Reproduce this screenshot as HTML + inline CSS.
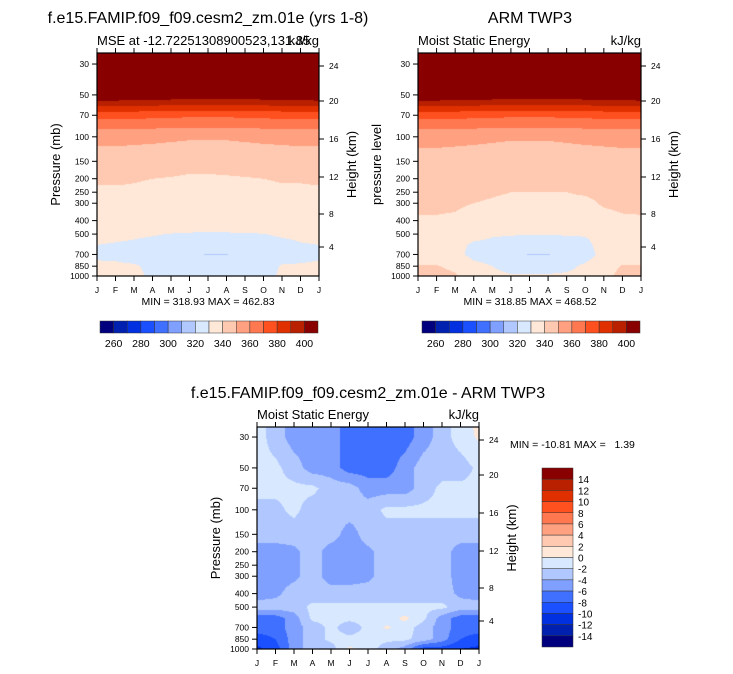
<!DOCTYPE html>
<html><head><meta charset="utf-8"><style>
body{margin:0;background:#fff;width:733px;height:674px;overflow:hidden;position:relative;font-family:"Liberation Sans",sans-serif}
canvas{position:absolute}
svg{position:absolute;left:0;top:0}
text{white-space:pre}
</style></head><body>
<canvas id="c1" width="222" height="223" style="left:97px;top:53px"></canvas>
<canvas id="c2" width="223" height="223" style="left:418px;top:53px"></canvas>
<canvas id="c3" width="222" height="222" style="left:257px;top:427px"></canvas>
<svg id="s" width="733" height="674"></svg>
<script>
const colors=["#00007f","#0020b0","#0030e0","#1a50ff","#4070ff","#80a0ff","#b0c8ff","#d8e8ff","#ffe8d8","#ffc8b0","#ffa080","#ff7850","#ff5020","#e03000","#b82000","#880000"];
const months=["J","F","M","A","M","J","J","A","S","O","N","D","J"];
const pLevels=[25,30,50,70,100,150,200,250,300,400,500,600,700,850,1000];
const pTicks=[30,50,70,100,150,200,250,300,400,500,700,850,1000];
const hTicks=[24,20,16,12,8,4];
const hTickOffsets=[13,48,86,124,161,194];
const mseLabels=[260,280,300,320,340,360,380,400];
const diffLabels=[14,12,10,8,6,4,2,0,-2,-4,-6,-8,-10,-12,-14];
// rows = months J..J, columns = pLevels
const modelMSE=[
[470,455,410,374,352.5,346,341,339,338,336,331.5,330,328.5,331.5,332],
[470,455,410,374,352.5,346,341,339,338,336,331.5,329.5,328,331.5,332],
[470,455,409.5,373.5,352.3,345.5,340.5,339,337.5,335.5,331,329,326,331,331.5],
[470,455,409,373,352,345,340,338.5,337,335,330.5,328,325,328,329],
[470,455,408,372.5,351.5,344.5,339.5,338,336.5,334.5,329.8,327.5,324,324,327],
[470,455,407,372,351,344,338.5,337.5,336,334,329.5,327,321,323,326],
[470,455,407,372,351,344,338.5,337.5,336,334,329.3,326.5,319.7,323,326],
[470,455,407,372,351,344,339,337.5,336,334,329.4,326.5,319.8,323,326],
[470,455,407.5,372.5,351.5,344.5,339.5,338,336.5,334.5,329.7,327,322,323,326],
[470,455,408,373,352,345,340,338.5,337,335,329.8,327.5,323,325,327],
[470,455,409,373.5,352.3,345.5,340.5,339,337.5,335.5,331,328,325,331,331.5],
[470,455,409.5,374,352.5,346,340.5,339,337.5,336,331.5,329.5,327,331,332],
[470,455,410,374,352.5,346,341,339,338,336,331.5,330,328.5,331.5,332]];
const obsMSE=[
[470,455,410,374,352.5,347,343,342,341,339.5,336,335,335,340.5,343],
[470,455,410,374,352.5,347,343,342,341,339.5,336,335,334.5,340.5,343],
[470,455,409.5,373.5,352.3,346.5,342.5,341.5,340.7,339.3,335.5,334,333,338,341],
[470,455,409,373,352,346,342,341,340,338,334,328,327,333,336],
[470,455,408,372.5,351.5,345.5,341.5,340.5,339.5,337.5,331,327.5,325,330,333],
[470,455,407,372,351,345,341,340,339,337,330.5,327,323,326,331],
[470,455,407,372,351,345,341,340,339,337,330.3,326.5,319.5,326,331],
[470,455,407,372,351,345,341,340,339,337,330.3,326.5,319.7,326,331],
[470,455,407.5,372.5,351.5,345.5,341,340,339,337,330.5,327,323,327,332],
[470,455,408,373,352,346,341.5,340.5,339,337.5,330.8,327.5,325,332,334],
[470,455,409,373.5,352.3,346.5,342,341,340.5,338.5,333,334,334,337,338],
[470,455,409.5,374,352.5,347,342.5,341.5,341,339.3,335.5,335,335,340.5,342],
[470,455,410,374,352.5,347,343,342,341,339.5,336,335,335,340.5,343]];
const diffMSE=[
[-1,-1,-1.5,-1.5,-2.5,-3,-5,-5,-5,-5,-3,-7,-7,-9,-10.5],
[-3,-3,-1.5,-1.5,-2.5,-3,-5,-5,-5,-4.5,-3,-7,-7,-8,-9],
[-5,-5,-3,-1.5,-1.5,-3,-4.5,-4.5,-4.5,-3,-3,-5,-5,-5,-5],
[-5,-5,-5,-1.5,-3,-3,-3,-3,-3,-3,-1.5,-1.5,-3,-3,-3],
[-5,-5,-5,-3,-3,-3,-5,-5,-5,-3,-1.5,-1.5,-1.5,-1.5,-3],
[-7,-7,-7,-3,-3,-5,-5,-5,-5,-3,-1.5,-1.5,-3,-1.5,0.5],
[-7,-7,-7,-5,-3,-3,-4.5,-4.5,-4.5,-3,-1.5,-1.5,-1.5,-1.5,-1],
[-7,-7,-7,-5,-1.5,-3,-3,-3,-3,-3,-1.5,-1,0.3,-1.5,-3],
[-7,-7,-5,-5,-1.5,-3,-3,-3,-3,-3,-1.5,0.5,-1,-1.5,-5],
[-5,-5,-3,-3,-1.5,-3,-3,-3,-3,-3,-1.5,-1.5,-3,-3,-9],
[-3,-3,-3,-1.5,-1.5,-3,-3,-3,-3,-3,-1.5,-5,-5,-5,-9],
[-1,-1,-3,-1.5,-1.5,-3,-5,-5,-5,-4.5,-3,-7,-7,-8,-10],
[0.5,0.3,-1.5,-1.5,-1.5,-3,-5,-5,-5,-5,-3,-7,-7,-9,-10.5]];

const PX=60.45; // px per ln-unit of pressure
function yOf(p,bottom){return bottom-Math.log(1000/p)*PX;}
function sample(data,m,p){
  const i0=Math.min(Math.floor(m),11),fx=m-i0;
  const lp=Math.log(p);let j=0;
  while(j<pLevels.length-2&&Math.log(pLevels[j+1])<lp)j++;
  const a=Math.log(pLevels[j]),b=Math.log(pLevels[j+1]);
  const fy=Math.max(0,Math.min(1,(lp-a)/(b-a)));
  const v00=data[i0][j],v01=data[i0][j+1],v10=data[i0+1][j],v11=data[i0+1][j+1];
  return (v00*(1-fx)+v10*fx)*(1-fy)+(v01*(1-fx)+v11*fx)*fy;
}
function drawField(id,data,idxFn){
  const c=document.getElementById(id),ctx=c.getContext('2d');
  const W=c.width,H=c.height;
  for(let y=0;y<H;y++){
    const p=1000*Math.exp(-(H-0.5-y)/PX);
    for(let x=0;x<W;x++){
      const m=(x+0.5)/W*12;
      ctx.fillStyle=colors[idxFn(sample(data,m,p))];
      ctx.fillRect(x,y,1,1);
    }
  }
}
const mseIdx=v=>Math.max(0,Math.min(15,Math.floor((v-250)/10)));
const diffIdx=v=>Math.max(0,Math.min(15,Math.floor((v+16)/2)));
drawField('c1',modelMSE,mseIdx);
drawField('c2',obsMSE,mseIdx);
drawField('c3',diffMSE,diffIdx);

const s=document.getElementById('s');const NS="http://www.w3.org/2000/svg";
function el(tag,attrs,txt){const e=document.createElementNS(NS,tag);for(const k in attrs)e.setAttribute(k,attrs[k]);if(txt!==undefined)e.textContent=txt;s.appendChild(e);return e;}
function text(x,y,t,size,anchor,name,rot){
  const e=el('text',{x:x,y:y,'font-size':size,'text-anchor':anchor||'start','font-family':'Liberation Sans, sans-serif',fill:'#000'},t);
  if(rot)e.setAttribute('transform','rotate(-90 '+x+' '+y+')');
  
  
  return e;
}
function axes(L,T,W,H,ylabel,prefix){
  const B=T+H,R=L+W;
  const fr=el('rect',{x:L,y:T,width:W,height:H,fill:'none',stroke:'#000','stroke-width':1.2});
  
  
  months.forEach((m,i)=>{
    const x=L+i*W/12;
    el('line',{x1:x,y1:B,x2:x,y2:B+5,stroke:'#000'});
    el('line',{x1:x,y1:T,x2:x,y2:T-5,stroke:'#000'});
    text(x,B+17,m,8.5,'middle',prefix+'-month-tick-label');
  });
  pTicks.forEach(p=>{
    const y=yOf(p,B);
    el('line',{x1:L,y1:y,x2:L-5,y2:y,stroke:'#000'});
    text(L-8,y+3,String(p),8.5,'end',prefix+'-pressure-tick-label');
  });
  hTicks.forEach((h,i)=>{
    const y=T+hTickOffsets[i];
    el('line',{x1:R,y1:y,x2:R+5,y2:y,stroke:'#000'});
    text(R+10,y+3,String(h),8.5,'start',prefix+'-height-tick-label');
  });
  text(L-37,T+H/2,ylabel,13,'middle',prefix+'-y-axis-title',true);
  text(R+37,T+H/2,'Height (km)',13,'middle',prefix+'-right-axis-title',true);
}
axes(97,53,222,223,'Pressure (mb)','model');
axes(418,53,223,223,'pressure level','obs');
axes(257,427,222,222,'Pressure (mb)','diff');

text(208,23,'f.e15.FAMIP.f09_f09.cesm2_zm.01e (yrs 1-8)',16,'middle','model-title');
text(97,45,'MSE at -12.72251308900523,131.85',13,'start','model-subtitle');
text(319,45,'kJ/kg',13,'end','model-units');
text(208,305,'MIN = 318.93 MAX = 462.83',10.5,'middle','model-min-max');
text(530,23,'ARM TWP3',16,'middle','obs-title');
text(418,45,'Moist Static Energy',13,'start','obs-subtitle');
text(641,45,'kJ/kg',13,'end','obs-units');
text(530,305,'MIN = 318.85 MAX = 468.52',10.5,'middle','obs-min-max');
text(368,398,'f.e15.FAMIP.f09_f09.cesm2_zm.01e - ARM TWP3',16,'middle','diff-title');
text(257,419,'Moist Static Energy',13,'start','diff-subtitle');
text(479,419,'kJ/kg',13,'end','diff-units');
text(510,448,'MIN = -10.81 MAX =   1.39',10.5,'start','diff-min-max');

// horizontal colorbars
[100,422].forEach((x0,k)=>{
  const w=218/16;
  colors.forEach((c,i)=>{
    const r=el('rect',{x:x0+i*w,y:321,width:w,height:12,fill:c,stroke:'#333','stroke-width':0.5});
    
    
  });
  mseLabels.forEach((v,i)=>text(x0+(1+2*i)*w,347,String(v),10.5,'middle','colorbar-label'));
});
// vertical colorbar
{
  const h=179/16;
  colors.slice().reverse().forEach((c,i)=>{
    const r=el('rect',{x:542,y:468+i*h,width:31,height:h,fill:c,stroke:'#333','stroke-width':0.5});
    
    
  });
  diffLabels.forEach((v,i)=>text(578,468+(i+1)*h+4,String(v),10,'start','diff-colorbar-label'));
}
</script>
</body></html>
